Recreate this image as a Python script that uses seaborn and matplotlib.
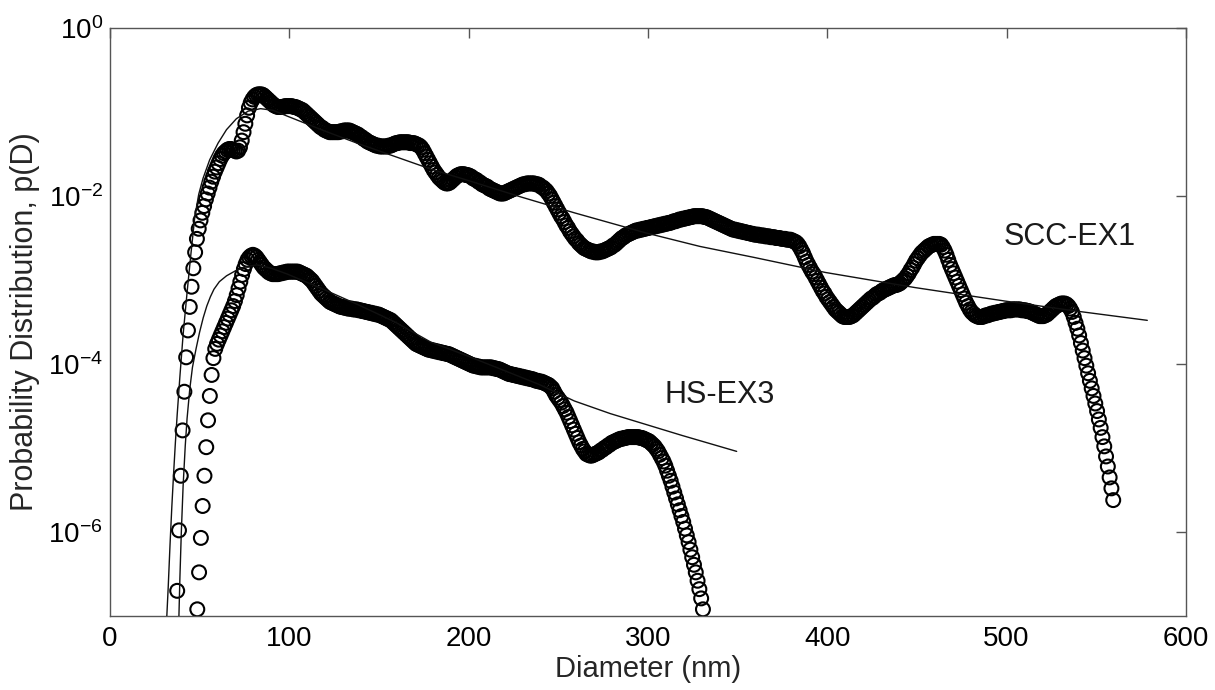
import numpy as np
import pandas as pd
import matplotlib
matplotlib.use("Agg")
import matplotlib.pyplot as plt
import seaborn as sns
from matplotlib.ticker import FixedLocator, NullLocator, LogFormatterSciNotation

# ---------------- data ----------------
# measured points, one circle per ~1 nm, values are log10 p(D)
scc_start_nm = 37.5
scc_log_p = [
    -6.70, -5.98, -5.33, -4.79, -4.33, -3.92, -3.60, -3.32, -3.08, -2.86, -2.67, -2.51, -2.39, -2.29,
    -2.20, -2.12, -2.04, -1.97, -1.90, -1.83, -1.77, -1.71, -1.66, -1.61,
    -1.56, -1.52, -1.49, -1.47, -1.45, -1.44, -1.44, -1.45, -1.46, -1.47,
    -1.46, -1.42, -1.34, -1.24, -1.14, -1.04, -0.95, -0.89, -0.85, -0.82,
    -0.80, -0.79, -0.79, -0.79, -0.80, -0.82, -0.84, -0.86, -0.88, -0.90,
    -0.92, -0.93, -0.94, -0.94, -0.94, -0.94, -0.93, -0.93, -0.93, -0.93,
    -0.93, -0.94, -0.94, -0.95, -0.96, -0.97, -0.98, -1.00, -1.02, -1.04,
    -1.06, -1.08, -1.10, -1.12, -1.14, -1.16, -1.18, -1.19, -1.21, -1.22,
    -1.23, -1.24, -1.24, -1.24, -1.24, -1.24, -1.24, -1.23, -1.23, -1.22,
    -1.22, -1.22, -1.22, -1.23, -1.24, -1.25, -1.26, -1.27, -1.29, -1.30,
    -1.32, -1.33, -1.35, -1.36, -1.37, -1.38, -1.39, -1.40, -1.40, -1.41,
    -1.41, -1.41, -1.41, -1.41, -1.40, -1.40, -1.39, -1.38, -1.37, -1.37,
    -1.36, -1.36, -1.36, -1.36, -1.36, -1.36, -1.37, -1.37, -1.37, -1.38,
    -1.39, -1.40, -1.42, -1.45, -1.49, -1.53, -1.57, -1.61, -1.65, -1.69,
    -1.72, -1.75, -1.78, -1.80, -1.82, -1.84, -1.85, -1.85, -1.84, -1.82,
    -1.80, -1.78, -1.76, -1.75, -1.74, -1.74, -1.74, -1.75, -1.75, -1.76,
    -1.77, -1.79, -1.80, -1.81, -1.83, -1.84, -1.86, -1.87, -1.88, -1.89,
    -1.91, -1.92, -1.93, -1.94, -1.95, -1.96, -1.97, -1.97, -1.97, -1.96,
    -1.95, -1.94, -1.93, -1.92, -1.91, -1.90, -1.89, -1.88, -1.87, -1.86,
    -1.86, -1.85, -1.85, -1.85, -1.85, -1.85, -1.86, -1.86, -1.87, -1.89,
    -1.90, -1.92, -1.94, -1.97, -2.00, -2.04, -2.08, -2.12, -2.16, -2.20,
    -2.24, -2.27, -2.31, -2.35, -2.38, -2.42, -2.45, -2.48, -2.51, -2.53,
    -2.56, -2.58, -2.60, -2.62, -2.63, -2.64, -2.65, -2.66, -2.66, -2.67,
    -2.67, -2.67, -2.66, -2.66, -2.65, -2.64, -2.63, -2.62, -2.61, -2.59,
    -2.58, -2.56, -2.54, -2.52, -2.50, -2.49, -2.47, -2.46, -2.45, -2.44,
    -2.43, -2.42, -2.41, -2.41, -2.40, -2.40, -2.39, -2.39, -2.38, -2.38,
    -2.37, -2.37, -2.36, -2.36, -2.35, -2.35, -2.34, -2.34, -2.33, -2.33,
    -2.32, -2.32, -2.31, -2.30, -2.30, -2.29, -2.28, -2.28, -2.27, -2.27,
    -2.26, -2.26, -2.25, -2.25, -2.24, -2.24, -2.24, -2.24, -2.24, -2.24,
    -2.25, -2.25, -2.26, -2.27, -2.28, -2.29, -2.30, -2.31, -2.32, -2.33,
    -2.34, -2.35, -2.36, -2.37, -2.38, -2.39, -2.40, -2.40, -2.41, -2.41,
    -2.42, -2.42, -2.43, -2.43, -2.44, -2.44, -2.45, -2.45, -2.46, -2.46,
    -2.46, -2.47, -2.47, -2.47, -2.48, -2.48, -2.48, -2.49, -2.49, -2.49,
    -2.50, -2.50, -2.50, -2.51, -2.51, -2.51, -2.52, -2.52, -2.52, -2.53,
    -2.54, -2.55, -2.57, -2.60, -2.64, -2.68, -2.73, -2.78, -2.82, -2.86,
    -2.90, -2.93, -2.97, -3.01, -3.05, -3.09, -3.13, -3.16, -3.20, -3.23,
    -3.26, -3.29, -3.32, -3.35, -3.37, -3.39, -3.41, -3.43, -3.44, -3.44,
    -3.44, -3.44, -3.43, -3.42, -3.40, -3.38, -3.36, -3.34, -3.32, -3.30,
    -3.28, -3.26, -3.24, -3.22, -3.21, -3.19, -3.17, -3.16, -3.15, -3.13,
    -3.12, -3.11, -3.10, -3.09, -3.08, -3.07, -3.06, -3.06, -3.05, -3.04,
    -3.02, -3.00, -2.98, -2.95, -2.92, -2.88, -2.85, -2.81, -2.77, -2.74,
    -2.71, -2.68, -2.66, -2.64, -2.62, -2.60, -2.59, -2.58, -2.57, -2.57,
    -2.57, -2.57, -2.58, -2.61, -2.65, -2.70, -2.76, -2.82, -2.87, -2.92,
    -2.97, -3.02, -3.07, -3.12, -3.17, -3.22, -3.27, -3.31, -3.35, -3.38,
    -3.40, -3.42, -3.43, -3.44, -3.44, -3.44, -3.43, -3.42, -3.42, -3.41,
    -3.40, -3.40, -3.39, -3.39, -3.38, -3.38, -3.37, -3.37, -3.36, -3.36,
    -3.36, -3.36, -3.35, -3.35, -3.35, -3.35, -3.35, -3.36, -3.36, -3.36,
    -3.37, -3.37, -3.38, -3.39, -3.40, -3.41, -3.42, -3.43, -3.43, -3.43,
    -3.42, -3.41, -3.39, -3.37, -3.35, -3.33, -3.31, -3.30, -3.29, -3.28,
    -3.28, -3.28, -3.29, -3.31, -3.34, -3.38, -3.44, -3.51, -3.58, -3.66,
    -3.75, -3.84, -3.93, -4.02, -4.11, -4.20, -4.29, -4.38, -4.47, -4.56,
    -4.66, -4.76, -4.87, -4.98, -5.10, -5.22, -5.35, -5.48, -5.62,
]

hs_start_nm = 48.7
hs_log_p = [
    -6.92, -6.48, -6.07, -5.69, -5.33, -4.99, -4.67, -4.38, -4.13, -3.93,
    -3.82, -3.76, -3.71, -3.66, -3.61, -3.56, -3.51, -3.46, -3.41, -3.36,
    -3.31, -3.25, -3.18, -3.10, -3.02, -2.94, -2.87, -2.81, -2.76, -2.73,
    -2.71, -2.70, -2.71, -2.73, -2.76, -2.79, -2.82, -2.85, -2.87, -2.89,
    -2.91, -2.92, -2.93, -2.93, -2.93, -2.93, -2.92, -2.92, -2.91, -2.91,
    -2.90, -2.90, -2.90, -2.90, -2.90, -2.90, -2.90, -2.91, -2.92, -2.93,
    -2.94, -2.95, -2.97, -2.99, -3.01, -3.04, -3.07, -3.10, -3.13, -3.16,
    -3.18, -3.20, -3.22, -3.24, -3.26, -3.27, -3.28, -3.29, -3.30, -3.31,
    -3.32, -3.32, -3.33, -3.33, -3.34, -3.34, -3.34, -3.35, -3.35, -3.35,
    -3.36, -3.36, -3.37, -3.37, -3.38, -3.38, -3.39, -3.39, -3.40, -3.40,
    -3.41, -3.41, -3.42, -3.43, -3.44, -3.45, -3.46, -3.47, -3.48, -3.50,
    -3.52, -3.54, -3.56, -3.58, -3.60, -3.62, -3.64, -3.66, -3.68, -3.70,
    -3.72, -3.74, -3.76, -3.77, -3.78, -3.79, -3.80, -3.81, -3.82, -3.83,
    -3.83, -3.84, -3.84, -3.85, -3.85, -3.86, -3.86, -3.87, -3.87, -3.88,
    -3.88, -3.89, -3.90, -3.91, -3.92, -3.93, -3.94, -3.95, -3.96, -3.97,
    -3.98, -3.99, -4.00, -4.01, -4.02, -4.02, -4.03, -4.03, -4.04, -4.04,
    -4.04, -4.04, -4.04, -4.04, -4.04, -4.05, -4.05, -4.06, -4.06, -4.07,
    -4.08, -4.09, -4.10, -4.11, -4.12, -4.12, -4.13, -4.13, -4.14, -4.14,
    -4.15, -4.15, -4.16, -4.16, -4.17, -4.17, -4.18, -4.18, -4.19, -4.20,
    -4.20, -4.21, -4.21, -4.22, -4.23, -4.24, -4.25, -4.27, -4.29, -4.33,
    -4.37, -4.40, -4.43, -4.46, -4.50, -4.54, -4.58, -4.63, -4.68, -4.73,
    -4.78, -4.83, -4.88, -4.93, -4.97, -5.01, -5.04, -5.07, -5.08, -5.09,
    -5.09, -5.08, -5.07, -5.06, -5.05, -5.03, -5.02, -5.00, -4.99, -4.97,
    -4.96, -4.94, -4.93, -4.92, -4.91, -4.90, -4.89, -4.89, -4.88, -4.88,
    -4.87, -4.87, -4.87, -4.87, -4.87, -4.87, -4.87, -4.88, -4.88, -4.89,
    -4.90, -4.91, -4.92, -4.94, -4.96, -4.98, -5.01, -5.04, -5.08, -5.12,
    -5.16, -5.21, -5.27, -5.33, -5.39, -5.46, -5.53, -5.60, -5.67, -5.74,
    -5.81, -5.88, -5.96, -6.04, -6.12, -6.21, -6.30, -6.39, -6.48, -6.58,
    -6.68, -6.79, -6.92,
]

# fitted curves (solid lines)
scc_fit_diam = [31.6, 32.5, 33.5, 34.5, 35.5, 36.5, 37.5, 39, 40.8, 43, 45, 47.3, 49.5,
                51.9, 55.6, 60.3, 65, 70.5, 77, 84, 91, 99, 119, 139, 159, 179, 199,
                229, 259, 299, 329, 359, 399, 449, 499, 539, 578.5]
scc_fit_log_p = [-7.05, -6.65, -6.15, -5.70, -5.30, -4.93, -4.60, -4.15, -3.65, -3.15,
                 -2.72, -2.25, -1.98, -1.79, -1.57, -1.37, -1.21, -1.08, -0.99, -0.96,
                 -0.98, -1.05, -1.22, -1.38, -1.53, -1.68, -1.81, -2.01, -2.20, -2.44,
                 -2.60, -2.73, -2.91, -3.09, -3.25, -3.37, -3.48]

hs_fit_diam = [38.4, 39.0, 39.8, 40.8, 42, 43, 44.5, 46, 48, 50, 52, 54, 56, 58, 61, 65,
               70, 76, 82, 90, 99, 109, 119, 139, 159, 179, 199, 219, 239, 259, 279,
               299, 319, 349.5]
hs_fit_log_p = [-7.05, -6.55, -6.00, -5.45, -4.97, -4.65, -4.30, -4.04, -3.82, -3.62,
                -3.45, -3.31, -3.20, -3.11, -3.02, -2.95, -2.89, -2.84, -2.82, -2.86,
                -2.93, -3.02, -3.11, -3.30, -3.50, -3.74, -3.90, -4.07, -4.24, -4.44,
                -4.59, -4.72, -4.85, -5.04]

sample_names = ["SCC-EX1", "HS-EX3"]
label_pos_diam = [498.6, 309.2]
label_pos_log_p = [-2.49, -4.37]

x_ticks = [0, 100, 200, 300, 400, 500, 600]
y_ticks = [1e-6, 1e-4, 1e-2, 1e0]
x_label = "Diameter (nm)"
y_label = "Probability Distribution, p(D)"

# ---------------- tables ----------------
scc_diam = scc_start_nm + np.arange(len(scc_log_p))
hs_diam = hs_start_nm + np.arange(len(hs_log_p))

points = pd.concat([
    pd.DataFrame({"Diameter": scc_diam, "p": 10.0 ** np.array(scc_log_p), "sample": sample_names[0]}),
    pd.DataFrame({"Diameter": hs_diam, "p": 10.0 ** np.array(hs_log_p), "sample": sample_names[1]}),
], ignore_index=True)

fits = pd.concat([
    pd.DataFrame({"Diameter": scc_fit_diam, "p": 10.0 ** np.array(scc_fit_log_p), "sample": sample_names[0]}),
    pd.DataFrame({"Diameter": hs_fit_diam, "p": 10.0 ** np.array(hs_fit_log_p), "sample": sample_names[1]}),
], ignore_index=True)

# ---------------- style ----------------
sns.set_theme(style="white")
plt.rcParams["font.family"] = ["Liberation Sans", "DejaVu Sans"]
plt.rcParams["mathtext.fontset"] = "custom"
plt.rcParams["mathtext.rm"] = "Liberation Sans"
plt.rcParams["mathtext.it"] = "Liberation Sans:italic"
plt.rcParams["mathtext.bf"] = "Liberation Sans:bold"
plt.rcParams["mathtext.default"] = "regular"

fig = plt.figure(figsize=(12.15, 6.9), dpi=100)
ax = fig.add_axes([0.0905, 0.1072, 0.8855, 0.8522])
ax.set_yscale("log")

sns.scatterplot(data=points, x="Diameter", y="p", ax=ax, marker="o", s=100,
                color="black", linewidth=1.5, legend=False, zorder=2)
for coll in ax.collections:
    coll.set_facecolor("none")
    coll.set_edgecolor("black")
    coll.set_linewidth(1.5)

sns.lineplot(data=fits, x="Diameter", y="p", units="sample", estimator=None,
             sort=False, color="#111111", linewidth=1.0, ax=ax, legend=False, zorder=3)

for name, xd, yl in zip(sample_names, label_pos_diam, label_pos_log_p):
    ax.text(xd, 10.0 ** yl, name, fontsize=22, ha="left", va="center", color="#1a1a1a")

ax.set_xlim(0, 600)
ax.set_ylim(1e-7, 1e0)
ax.xaxis.set_major_locator(FixedLocator(x_ticks))
ax.xaxis.set_minor_locator(NullLocator())
ax.yaxis.set_major_locator(FixedLocator(y_ticks))
ax.yaxis.set_minor_locator(NullLocator())
ax.yaxis.set_major_formatter(LogFormatterSciNotation())

ax.set_xlabel(x_label, fontsize=21, labelpad=2)
ax.set_ylabel(y_label, fontsize=22, labelpad=6)

ax.tick_params(axis="both", which="major", direction="in", length=7, width=1,
               color="#555555", labelsize=20, labelcolor="black",
               top=True, right=True)
ax.tick_params(axis="x", pad=7)
ax.tick_params(axis="y", pad=5)
for sp in ax.spines.values():
    sp.set_visible(True)
    sp.set_color("#555555")
    sp.set_linewidth(1.0)

fig.savefig("out.png", dpi=100)
